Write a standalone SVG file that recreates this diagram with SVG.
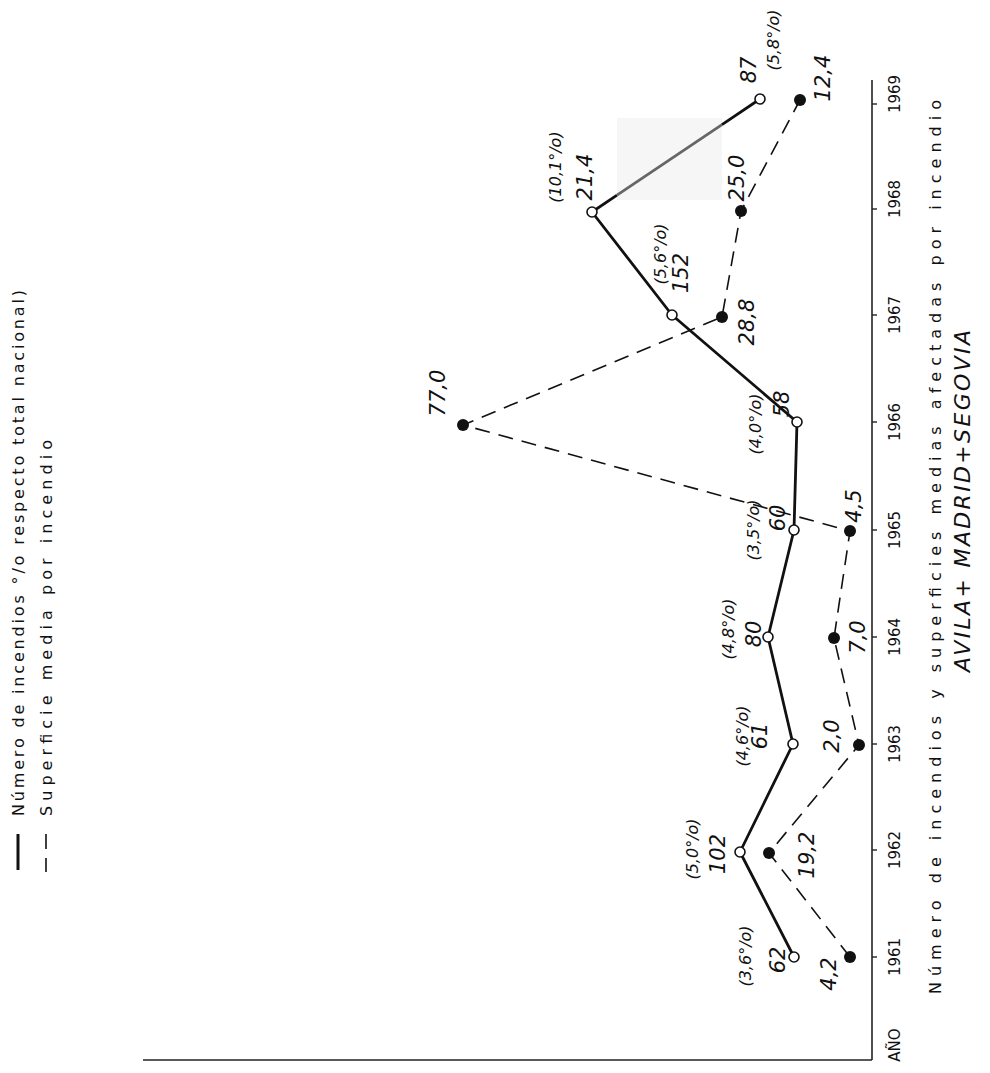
<svg xmlns="http://www.w3.org/2000/svg" width="990" height="1073" viewBox="0 0 990 1073">
<style>
text{font-family:"DejaVu Sans","Liberation Sans",sans-serif;fill:#111}
.num{font-size:21px;font-style:italic}
.pct{font-size:16px;font-style:italic}
.yr{font-size:15px}
.cap{font-size:16px}
.cap2{font-size:22px;font-style:italic}
.leg{font-size:16px}
.solid{fill:none;stroke:#111;stroke-width:2.8;stroke-linejoin:round}
.dash{fill:none;stroke:#111;stroke-width:1.6;stroke-dasharray:15 9}
.axis{fill:none;stroke:#222;stroke-width:1.6}
.oc{fill:#fff;stroke:#111;stroke-width:1.6}
.fc{fill:#111;stroke:none}
</style>
<rect width="990" height="1073" fill="#fff"/>

<g id="legend">
<line x1="18" y1="834" x2="18" y2="870" stroke="#111" stroke-width="3"/>
<text class="leg" transform="translate(18,816) rotate(-90)" dy="0.35em" textLength="526" lengthAdjust="spacing">Número de incendios °/o respecto total  nacional)</text>
<line x1="46" y1="834" x2="46" y2="872" class="dash" stroke-dasharray="9 5"/>
<text class="leg" transform="translate(46,816) rotate(-90)" dy="0.35em" textLength="376" lengthAdjust="spacing">Superficie  media  por  incendio</text>
</g>

<g id="axes">
<line class="axis" x1="872" y1="80" x2="872" y2="1060"/>
<line class="axis" x1="143" y1="1060" x2="872" y2="1060"/>
<g stroke="#222" stroke-width="1.4">
<line x1="872" y1="957" x2="877" y2="957"/><line x1="872" y1="850" x2="877" y2="850"/>
<line x1="872" y1="744" x2="877" y2="744"/><line x1="872" y1="637" x2="877" y2="637"/>
<line x1="872" y1="530" x2="877" y2="530"/><line x1="872" y1="422" x2="877" y2="422"/>
<line x1="872" y1="315" x2="877" y2="315"/><line x1="872" y1="209" x2="877" y2="209"/>
<line x1="872" y1="104" x2="877" y2="104"/>
</g>
<g text-anchor="middle">
<text class="yr" transform="translate(895,1045) rotate(-90)" dy="0.35em">AÑO</text>
<text class="yr" transform="translate(895,957) rotate(-90)" dy="0.35em">1961</text>
<text class="yr" transform="translate(895,850) rotate(-90)" dy="0.35em">1962</text>
<text class="yr" transform="translate(895,744) rotate(-90)" dy="0.35em">1963</text>
<text class="yr" transform="translate(895,637) rotate(-90)" dy="0.35em">1964</text>
<text class="yr" transform="translate(895,530) rotate(-90)" dy="0.35em">1965</text>
<text class="yr" transform="translate(895,422) rotate(-90)" dy="0.35em">1966</text>
<text class="yr" transform="translate(895,315) rotate(-90)" dy="0.35em">1967</text>
<text class="yr" transform="translate(895,199) rotate(-90)" dy="0.35em">1968</text>
<text class="yr" transform="translate(895,94) rotate(-90)" dy="0.35em">1969</text>
</g>
</g>

<g id="caption">
<text class="cap" transform="translate(935,994) rotate(-90)" dy="0.35em" textLength="894" lengthAdjust="spacing">Número  de  incendios  y  superficies  medias  afectadas  por  incendio</text>
<text class="cap2" transform="translate(962,672) rotate(-90)" dy="0.35em" textLength="342" lengthAdjust="spacing">AVILA+ MADRID+SEGOVIA</text>
</g>

<rect x="617" y="118" width="105" height="82" fill="#f6f6f6"/>

<g id="connectors">
<polyline class="solid" points="794,957 740,852 793,744 768,637 794,530 797,422 672,315 592,212"/>
<line x1="592" y1="212" x2="617" y2="195.2" class="solid"/>
<line x1="617" y1="195.2" x2="722" y2="124.6" stroke="#666" stroke-width="2.8"/>
<line x1="722" y1="124.6" x2="760" y2="99" class="solid"/>
<polyline class="dash" points="850,957 769,853 859,745 834,638 850,531 463,425 722,317 741,211 800,100"/>
</g>

<g id="incendios">
<g id="n1961"><circle class="oc" cx="794" cy="957" r="5"/><text class="num" text-anchor="middle" transform="translate(778,960) rotate(-90)" dy="0.35em">62</text><text class="pct" text-anchor="middle" transform="translate(745,956) rotate(-90)" dy="0.35em">(3,6°/o)</text></g>
<g id="n1962"><circle class="oc" cx="740" cy="852" r="5"/><text class="num" text-anchor="middle" transform="translate(718,854) rotate(-90)" dy="0.35em">102</text><text class="pct" text-anchor="middle" transform="translate(692,849) rotate(-90)" dy="0.35em">(5,0°/o)</text></g>
<g id="n1963"><circle class="oc" cx="793" cy="744" r="5"/><text class="num" text-anchor="middle" transform="translate(760,736) rotate(-90)" dy="0.35em">61</text><text class="pct" text-anchor="middle" transform="translate(742,736) rotate(-90)" dy="0.35em">(4,6°/o)</text></g>
<g id="n1964"><circle class="oc" cx="768" cy="637" r="5"/><text class="num" text-anchor="middle" transform="translate(754,634) rotate(-90)" dy="0.35em">80</text><text class="pct" text-anchor="middle" transform="translate(728,629) rotate(-90)" dy="0.35em">(4,8°/o)</text></g>
<g id="n1965"><circle class="oc" cx="794" cy="530" r="5"/><text class="num" text-anchor="middle" transform="translate(778,518) rotate(-90)" dy="0.35em">60</text><text class="pct" text-anchor="middle" transform="translate(753,530) rotate(-90)" dy="0.35em">(3,5°/o)</text></g>
<g id="n1966"><circle class="oc" cx="797" cy="422" r="5"/><text class="num" text-anchor="middle" transform="translate(782,404) rotate(-90)" dy="0.35em">58</text><text class="pct" text-anchor="middle" transform="translate(755,424) rotate(-90)" dy="0.35em">(4,0°/o)</text></g>
<g id="n1967"><circle class="oc" cx="672" cy="315" r="5"/><text class="num" text-anchor="middle" transform="translate(681,273) rotate(-90)" dy="0.35em">152</text><text class="pct" text-anchor="middle" transform="translate(660,254) rotate(-90)" dy="0.35em">(5,6°/o)</text></g>
<g id="n1968"><circle class="oc" cx="592" cy="212" r="5"/><text class="num" text-anchor="middle" transform="translate(585,177) rotate(-90)" dy="0.35em">21,4</text><text class="pct" text-anchor="middle" transform="translate(555,167) rotate(-90)" dy="0.35em">(10,1°/o)</text></g>
<g id="n1969"><circle class="oc" cx="760" cy="99" r="5"/><text class="num" text-anchor="middle" transform="translate(749,70) rotate(-90)" dy="0.35em">87</text><text class="pct" text-anchor="middle" transform="translate(773,40) rotate(-90)" dy="0.35em">(5,8°/o)</text></g>
</g>

<g id="superficie">
<g id="s1961"><circle class="fc" cx="850" cy="957" r="6"/><text class="num" text-anchor="middle" transform="translate(829,974) rotate(-90)" dy="0.35em">4,2</text></g>
<g id="s1962"><circle class="fc" cx="769" cy="853" r="6"/><text class="num" text-anchor="middle" transform="translate(807,855) rotate(-90)" dy="0.35em">19,2</text></g>
<g id="s1963"><circle class="fc" cx="859" cy="745" r="6"/><text class="num" text-anchor="middle" transform="translate(832,736) rotate(-90)" dy="0.35em">2,0</text></g>
<g id="s1964"><circle class="fc" cx="834" cy="638" r="6"/><text class="num" text-anchor="middle" transform="translate(858,637) rotate(-90)" dy="0.35em">7,0</text></g>
<g id="s1965"><circle class="fc" cx="850" cy="531" r="6"/><text class="num" text-anchor="middle" transform="translate(854,506) rotate(-90)" dy="0.35em">4,5</text></g>
<g id="s1966"><circle class="fc" cx="463" cy="425" r="6"/><text class="num" text-anchor="middle" transform="translate(438,393) rotate(-90)" dy="0.35em">77,0</text></g>
<g id="s1967"><circle class="fc" cx="722" cy="317" r="6"/><text class="num" text-anchor="middle" transform="translate(747,322) rotate(-90)" dy="0.35em">28,8</text></g>
<g id="s1968"><circle class="fc" cx="741" cy="211" r="6"/><text class="num" text-anchor="middle" transform="translate(737,178) rotate(-90)" dy="0.35em">25,0</text></g>
<g id="s1969"><circle class="fc" cx="800" cy="100" r="6"/><text class="num" text-anchor="middle" transform="translate(823,78) rotate(-90)" dy="0.35em">12,4</text></g>
</g>
</svg>
